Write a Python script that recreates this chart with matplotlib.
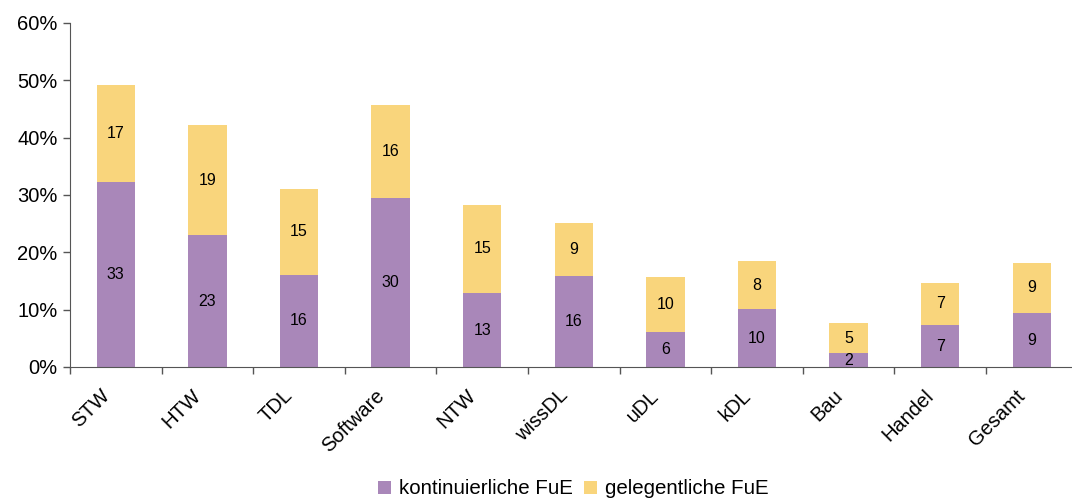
import matplotlib
matplotlib.use("Agg")
import matplotlib.pyplot as plt
import matplotlib.transforms as mtransforms
import numpy as np
from matplotlib.ticker import FuncFormatter, FixedLocator, NullFormatter

categories = ["STW", "HTW", "TDL", "Software", "NTW", "wissDL", "uDL", "kDL", "Bau", "Handel", "Gesamt"]
kontinuierlich = [32.3, 23.0, 16.1, 29.5, 12.9, 15.9, 6.1, 10.1, 2.4, 7.3, 9.4]
gelegentlich = [16.9, 19.2, 15.0, 16.2, 15.4, 9.2, 9.6, 8.4, 5.3, 7.4, 8.8]
labels_kont = ["33", "23", "16", "30", "13", "16", "6", "10", "2", "7", "9"]
labels_gel = ["17", "19", "15", "16", "15", "9", "10", "8", "5", "7", "9"]
series_names = ["kontinuierliche FuE", "gelegentliche FuE"]

purple = "#A987B9"
yellow = "#F9D57C"

plt.rcParams['font.family'] = ['Liberation Sans', 'DejaVu Sans']

fig = plt.figure(figsize=(10.72, 5.01), dpi=100)
ax = fig.add_axes([70 / 1072, 134 / 501, 11 * 91.6 / 1072, 344 / 501])

x = np.arange(len(categories))
w = 0.42
b1 = ax.bar(x, kontinuierlich, w, color=purple, label=series_names[0])
b2 = ax.bar(x, gelegentlich, w, bottom=kontinuierlich, color=yellow, label=series_names[1])

for xi, k, g, lk, lg in zip(x, kontinuierlich, gelegentlich, labels_kont, labels_gel):
    ax.text(xi, k / 2, lk, ha='center', va='center', fontsize=11.5, color='black')
    ax.text(xi, k + g / 2, lg, ha='center', va='center', fontsize=11.5, color='black')

ax.set_ylim(0, 60)
ax.set_xlim(-0.5, len(categories) - 0.5)
ax.set_yticks(np.arange(0, 61, 10))
ax.yaxis.set_major_formatter(FuncFormatter(lambda v, p: f"{int(v)}%"))
ax.tick_params(axis='y', labelsize=14.5, length=5, width=1, color='#555555', pad=4)

# category labels (rotated), anchored left of each category centre
ax.set_xticks(x)
ax.xaxis.set_major_formatter(NullFormatter())
ax.tick_params(axis='x', length=0)
offset = mtransforms.ScaledTranslation(-16 / 100, -19 / 100, fig.dpi_scale_trans)
lbl_trans = ax.get_xaxis_transform() + offset
for xi, cat in zip(x, categories):
    ax.text(xi, 0, cat, rotation=45, ha='right', va='top', rotation_mode='anchor',
            fontsize=14.5, transform=lbl_trans, clip_on=False)

ax.xaxis.set_minor_locator(FixedLocator(np.arange(-0.5, len(categories), 1.0)))
ax.tick_params(axis='x', which='minor', length=5, width=1, color='#555555')

for s in ['top', 'right']:
    ax.spines[s].set_visible(False)
ax.spines['left'].set_color('#555555')
ax.spines['bottom'].set_color('#555555')

leg = fig.legend(handles=[b1, b2], labels=series_names, loc='center', bbox_to_anchor=(0.535, 0.024),
                 ncol=2, frameon=False, fontsize=14.8, handlelength=0.62, handleheight=0.62,
                 handletextpad=0.4, columnspacing=0.55)

fig.savefig("out.png", dpi=100)
